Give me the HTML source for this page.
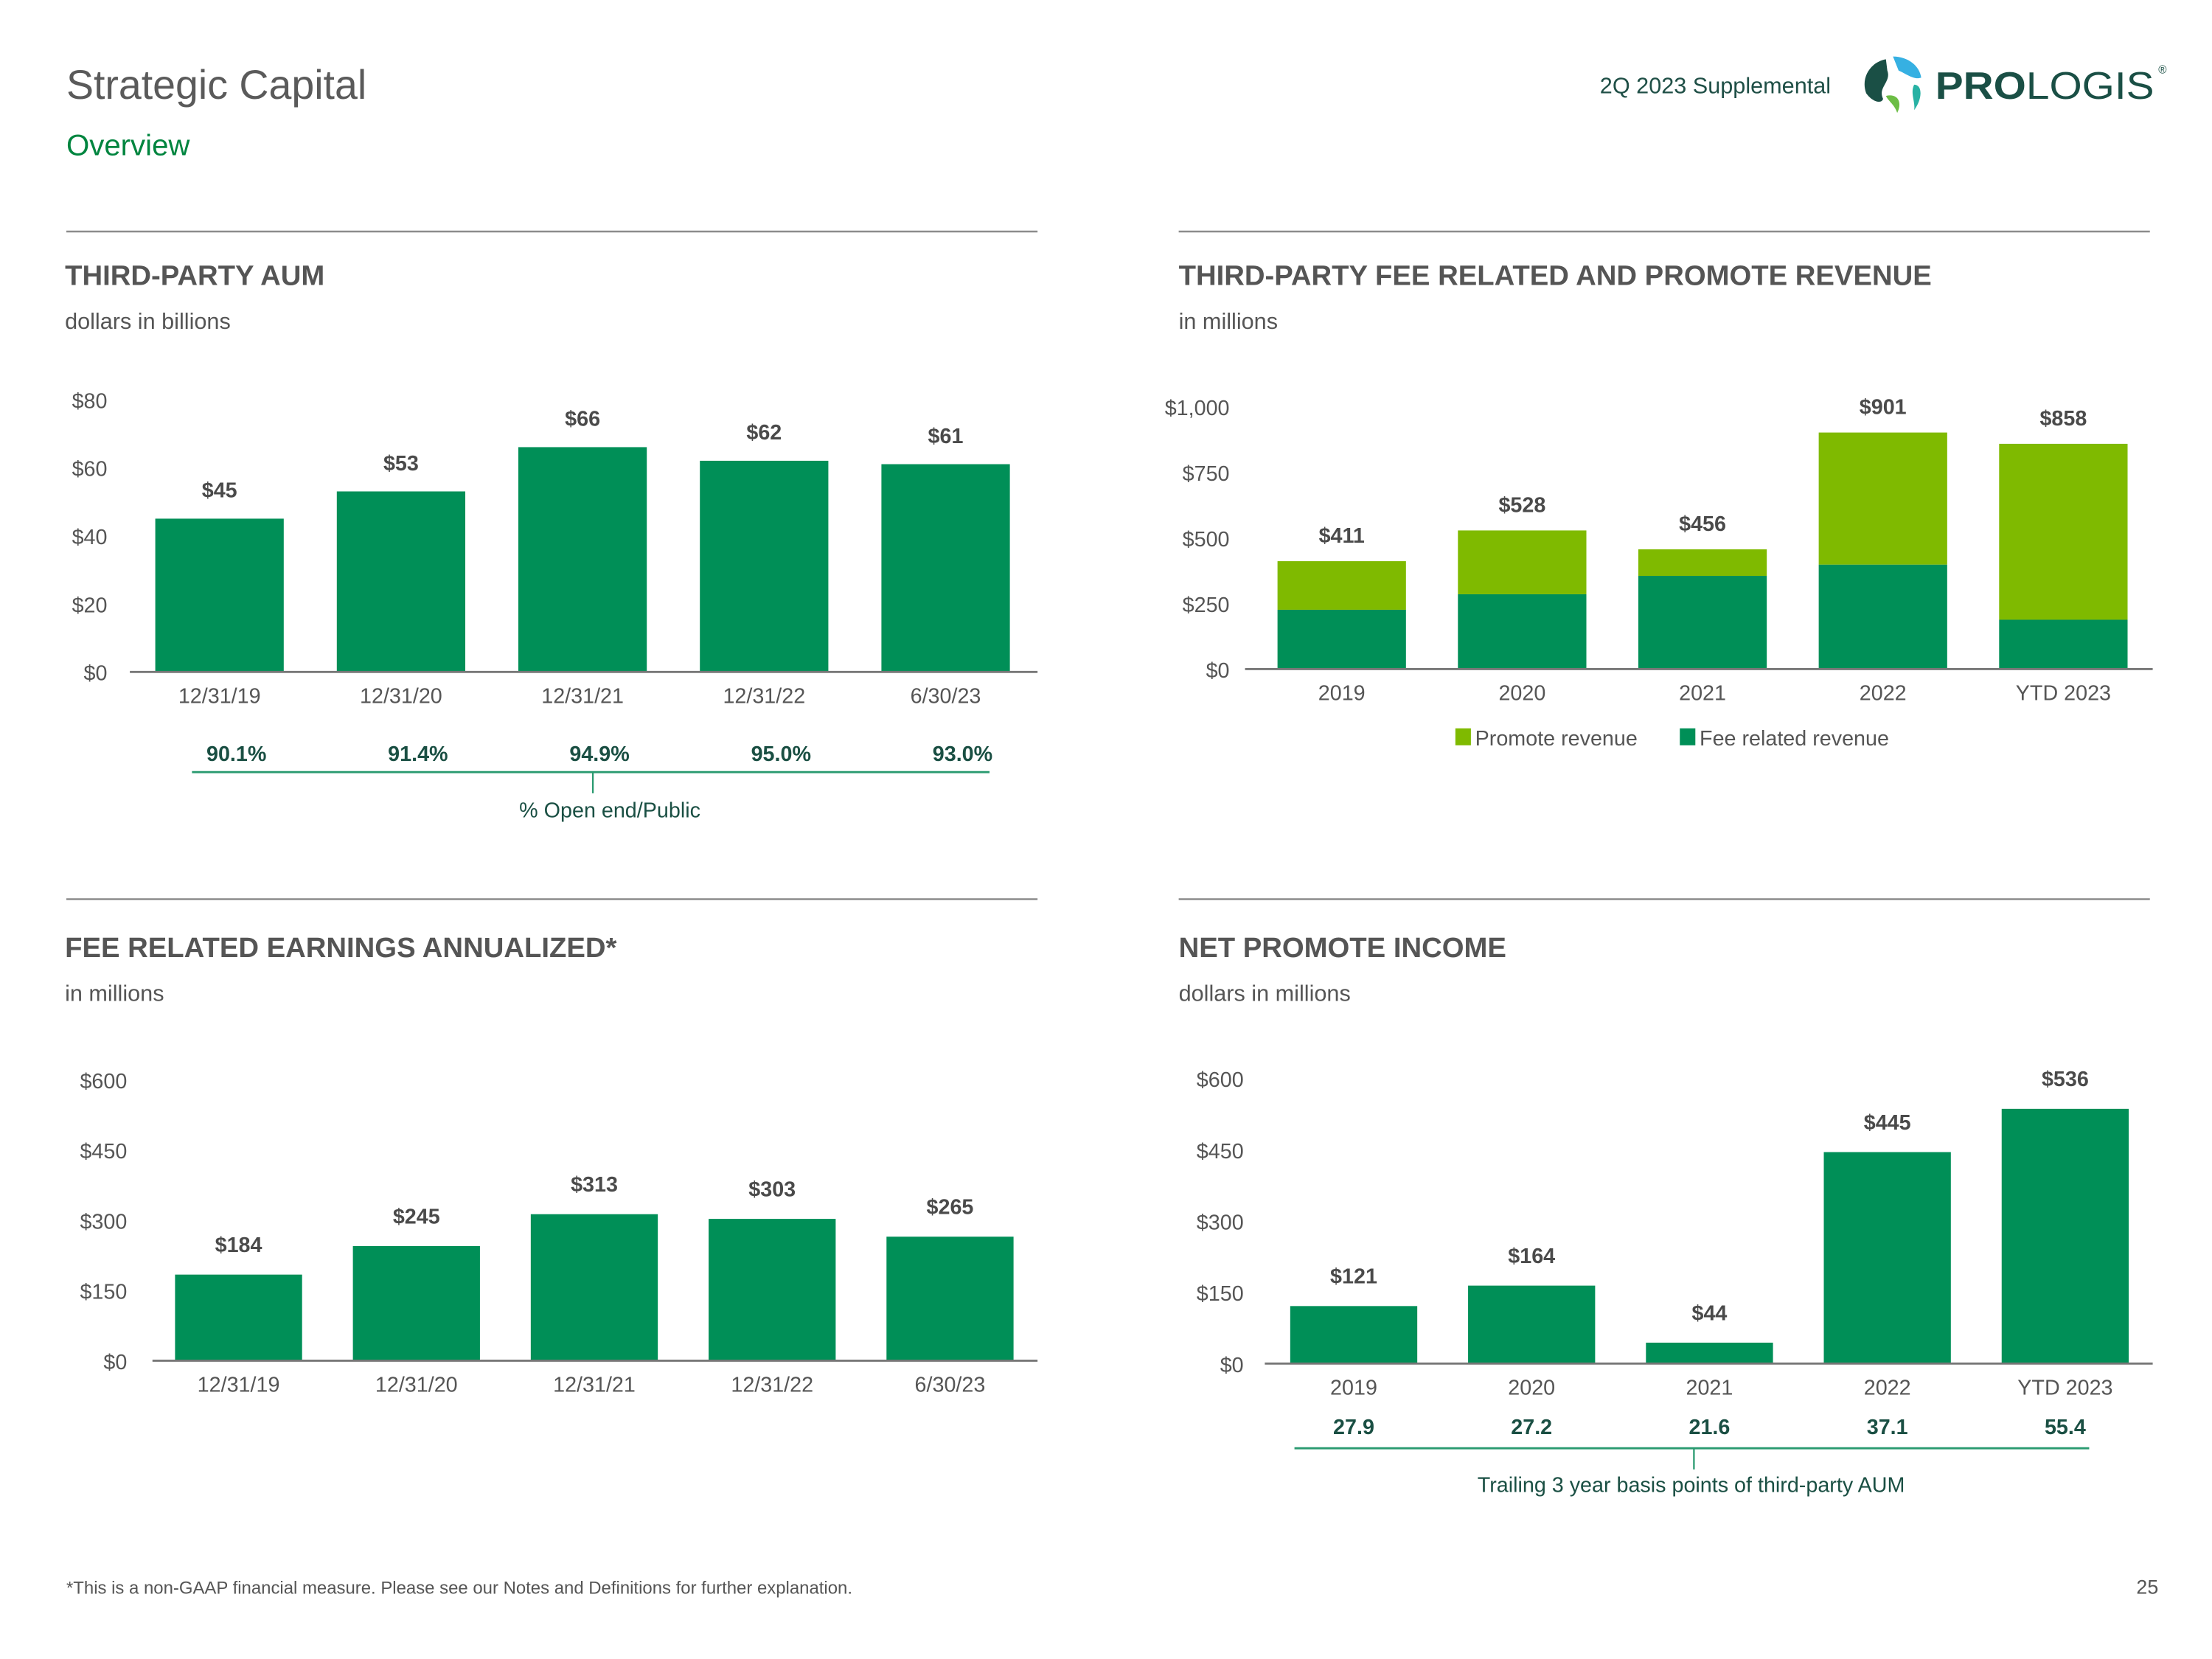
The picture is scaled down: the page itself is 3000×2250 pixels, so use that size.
<!DOCTYPE html>
<html><head><meta charset="utf-8"><style>
html,body{margin:0;padding:0;background:#fff;}
svg{display:block;font-family:"Liberation Sans",sans-serif;}
</style></head><body>
<svg id="page" width="3000" height="2250" viewBox="0 0 1567 1175.3" preserveAspectRatio="none" xmlns="http://www.w3.org/2000/svg">
<text x="47" y="70" font-size="29" fill="#5a5a5a">Strategic Capital</text>
<text x="47" y="110" font-size="21" fill="#00853F">Overview</text>
<text x="1297" y="66" font-size="16" fill="#1f4f46" text-anchor="end">2Q 2023 Supplemental</text>
<g>
<path d="M1336,42 C1325,44 1318,55 1322,66 C1326,72 1333,74 1334,70 C1330,62 1340,58 1337,50 Z" fill="#1a4f45"/>
<path d="M1341,40 C1352,40 1360,47 1361,55 C1356,57 1350,52 1345,50 Z" fill="#36b0e2"/>
<path d="M1356,60 C1362,60 1362,70 1356,78 C1357,72 1353,66 1356,60Z" fill="#27b2a4"/>
<path d="M1336,68 C1344,66 1348,72 1344,80 C1342,74 1338,72 1336,68Z" fill="#6cbd45"/>
<text x="1371" y="70" font-size="27" font-weight="bold" fill="#1a4f45" textLength="155" lengthAdjust="spacingAndGlyphs">PRO<tspan font-weight="normal">LOGIS</tspan></text>
<text x="1529" y="52" font-size="8" fill="#1a4f45">®</text>
</g>
<g stroke="#8c8c8c" stroke-width="1.3">
<line x1="47" y1="164" x2="735" y2="164"/><line x1="835" y1="164" x2="1523" y2="164"/>
<line x1="47" y1="637" x2="735" y2="637"/><line x1="835" y1="637" x2="1523" y2="637"/>
</g>
<g font-size="20" font-weight="bold" fill="#555">
<text x="46" y="202">THIRD-PARTY AUM</text>
<text x="835" y="202">THIRD-PARTY FEE RELATED AND PROMOTE REVENUE</text>
<text x="46" y="678">FEE RELATED EARNINGS ANNUALIZED*</text>
<text x="835" y="678">NET PROMOTE INCOME</text>
</g>
<g font-size="16" fill="#555">
<text x="46" y="233">dollars in billions</text>
<text x="835" y="233">in millions</text>
<text x="46" y="709">in millions</text>
<text x="835" y="709">dollars in millions</text>
</g>
<text x="47" y="1129" font-size="12.5" fill="#555">*This is a non-GAAP financial measure. Please see our Notes and Definitions for further explanation.</text>
<text x="1529" y="1129" font-size="14" fill="#555" text-anchor="end">25</text>
<g id="charts"></g>
</svg>
<script>
const aumCats=["12/31/19","12/31/20","12/31/21","12/31/22","6/30/23"];
const aumVals=[45,53,66,62,61];
const aumLabels=["$45","$53","$66","$62","$61"];
const aumTicks=[0,20,40,60,80];
const aumPct=["90.1%","91.4%","94.9%","95.0%","93.0%"];
const revCats=["2019","2020","2021","2022","YTD 2023"];
const revFee=[226,285,355,398,188];
const revPromote=[185,243,101,503,670];
const revLabels=["$411","$528","$456","$901","$858"];
const revTicks=[0,250,500,750,1000];
const freCats=["12/31/19","12/31/20","12/31/21","12/31/22","6/30/23"];
const freVals=[184,245,313,303,265];
const freLabels=["$184","$245","$313","$303","$265"];
const freTicks=[0,150,300,450,600];
const npiCats=["2019","2020","2021","2022","YTD 2023"];
const npiVals=[121,164,44,445,536];
const npiLabels=["$121","$164","$44","$445","$536"];
const npiTicks=[0,150,300,450,600];
const npiBps=["27.9","27.2","21.6","37.1","55.4"];

const NS="http://www.w3.org/2000/svg";
const root=document.getElementById('charts');
function el(t,a,p){const e=document.createElementNS(NS,t);for(const k in a)e.setAttribute(k,a[k]);(p||root).appendChild(e);return e;}
function txt(s,a,p){const e=el('text',a,p);e.textContent=s;return e;}
const DK="#008f57",LT="#7fba00",GR="#555";
function chart(o){
  const g=el('g',{});
  
  
  const max=o.ticks[o.ticks.length-1];
  const y=v=>o.y0-(o.y0-o.yTop)*v/max;
  const x=i=>o.x0+o.pitch*i;
  o.ticks.forEach(t=>{
    const lab=txt((t>=1000?"$1,000":"$"+t),{x:o.tickX,y:y(t)+6,'font-size':15,fill:GR,'text-anchor':'end'},g);
    
    
  });
  o.cats.forEach((c,i)=>{
    let base=0;
    o.series.forEach(s=>{
      const v=s.vals[i];
      const r=el('rect',{x:x(i),y:y(base+v),width:o.bw,height:y(base)-y(base+v),fill:s.color},g);
      
      
      base+=v;
    });
    const vl=txt(o.labels[i],{x:x(i)+o.bw/2,y:y(base)-o.labOff,'font-size':15,'font-weight':'bold',fill:'#4a4a4a','text-anchor':'middle'},g);
    
    
    const cl=txt(c,{x:x(i)+o.bw/2,y:o.y0+22,'font-size':15,fill:GR,'text-anchor':'middle'},g);
    
    
  });
  const ax=el('line',{x1:o.ax1,x2:o.ax2,y1:o.y0,y2:o.y0,stroke:'#777','stroke-width':1.5},g);
  
  
  return {g,x};
}
const c1=chart({name:'aum-chart',cats:aumCats,labels:aumLabels,ticks:aumTicks,series:[{key:'aum',vals:aumVals,color:DK}],y0:476,yTop:283,x0:110,pitch:128.6,bw:91,tickX:76,ax1:92,ax2:735,labOff:15});
aumPct.forEach((p,i)=>{
  const t=txt(p,{x:c1.x(i)+45.5+12,y:539,'font-size':15,'font-weight':'bold',fill:'#1a4f43','text-anchor':'middle'},c1.g);
  
  
});
el('line',{x1:136,x2:701,y1:547,y2:547,stroke:'#2a9a70','stroke-width':1.5},c1.g);
el('line',{x1:420,x2:420,y1:547,y2:562,stroke:'#2a9a70','stroke-width':1.2},c1.g);
txt('% Open end/Public',{x:432,y:579,'font-size':15,fill:'#1a4f43','text-anchor':'middle'},c1.g);

chart({name:'revenue-chart',cats:revCats,labels:revLabels,ticks:revTicks,series:[{key:'fee',vals:revFee,color:DK},{key:'promote',vals:revPromote,color:LT}],y0:474,yTop:288,x0:905,pitch:127.8,bw:91,tickX:871,ax1:882,ax2:1525,labOff:13});
const lg=el('g',{});


el('rect',{x:1031,y:516,width:11,height:12,fill:LT},lg);
txt('Promote revenue',{x:1045,y:528,'font-size':15,fill:GR},lg);
el('rect',{x:1190,y:516,width:11,height:12,fill:DK},lg);
txt('Fee related revenue',{x:1204,y:528,'font-size':15,fill:GR},lg);

chart({name:'fre-chart',cats:freCats,labels:freLabels,ticks:freTicks,series:[{key:'fre',vals:freVals,color:DK}],y0:964,yTop:765,x0:124,pitch:126,bw:90,tickX:90,ax1:108,ax2:735,labOff:16});

const c4=chart({name:'promote-income-chart',cats:npiCats,labels:npiLabels,ticks:npiTicks,series:[{key:'npi',vals:npiVals,color:DK}],y0:966,yTop:764,x0:914,pitch:126,bw:90,tickX:881,ax1:896,ax2:1525,labOff:16});
npiBps.forEach((p,i)=>{
  const t=txt(p,{x:c4.x(i)+45,y:1016,'font-size':15,'font-weight':'bold',fill:'#1a4f43','text-anchor':'middle'},c4.g);
  
  
});
el('line',{x1:917,x2:1480,y1:1026,y2:1026,stroke:'#2a9a70','stroke-width':1.5},c4.g);
el('line',{x1:1200,x2:1200,y1:1026,y2:1041,stroke:'#2a9a70','stroke-width':1.2},c4.g);
txt('Trailing 3 year basis points of third-party AUM',{x:1198,y:1057,'font-size':15,fill:'#1a4f43','text-anchor':'middle'},c4.g);
</script>
</body></html>
